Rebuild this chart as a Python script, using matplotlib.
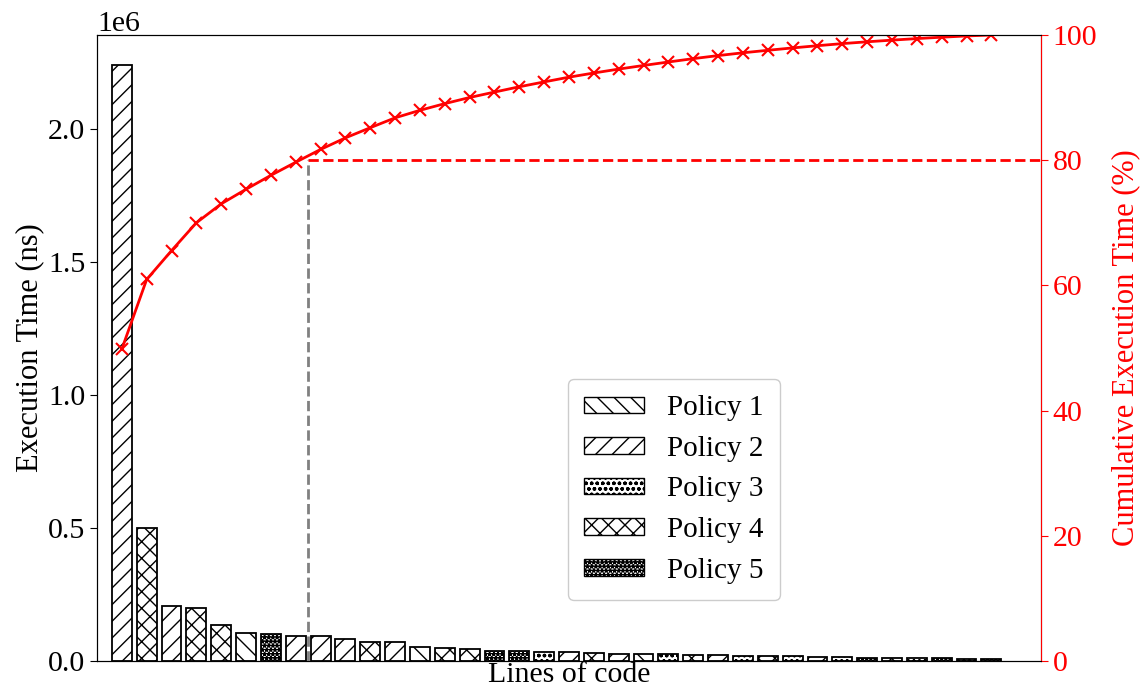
import matplotlib
matplotlib.use("Agg")
import matplotlib.pyplot as plt
from matplotlib.patches import Patch

plt.rcParams['font.family'] = ['Liberation Serif', 'DejaVu Serif']
plt.rcParams['hatch.linewidth'] = 1.0

# Per-line execution time (ns), sorted from slowest to fastest
exec_time_ns = [
    2.24e6, 0.500e6, 0.207e6, 0.200e6, 0.136e6, 0.105e6, 0.100e6, 0.094e6,
    0.092e6, 0.083e6, 0.073e6, 0.071e6, 0.054e6, 0.048e6, 0.044e6, 0.039e6,
    0.038e6, 0.035e6, 0.034e6, 0.030e6, 0.028e6, 0.026e6, 0.025e6, 0.024e6,
    0.022e6, 0.020e6, 0.018e6, 0.017e6, 0.016e6, 0.015e6, 0.013e6, 0.012e6,
    0.011e6, 0.010e6, 0.009e6, 0.007e6,
]

# Policy applied to each line of code
line_policy = [
    2, 4, 2, 4, 4, 1, 5, 2, 2, 2, 4, 2, 1, 4, 4, 5, 5, 3,
    2, 4, 2, 1, 3, 4, 2, 3, 4, 3, 2, 3, 5, 4, 3, 5, 3, 5,
]

policy_names = ["Policy 1", "Policy 2", "Policy 3", "Policy 4", "Policy 5"]
policy_hatches = ["\\\\", "//", "ooo", "xx", "****"]

threshold_pct = 80

n = len(exec_time_ns)
x = list(range(n))
total = sum(exec_time_ns)
cum_pct = []
running = 0.0
for v in exec_time_ns:
    running += v
    cum_pct.append(running / total * 100)
cut_idx = next(i for i, c in enumerate(cum_pct) if c >= threshold_pct)
cut_x = cut_idx - 0.5

fig = plt.figure(figsize=(11.45, 6.94), dpi=100)
ax = fig.add_axes([0.0847, 0.0476, 0.8245, 0.902])

for xi, v, p in zip(x, exec_time_ns, line_policy):
    ax.bar(xi, v, width=0.8, color="white", edgecolor="black",
           linewidth=1.3, hatch=policy_hatches[p - 1])

ax.set_xlim(-1, n + 1)
ax.set_ylim(0, max(exec_time_ns) * 1.05)
ax.set_xticks([])
ax.set_xlabel("Lines of code", fontsize=21.5, labelpad=1)
ax.set_ylabel("Execution Time (ns)", fontsize=22, labelpad=3)
ax.tick_params(axis="y", labelsize=21.5, length=5)
ax.yaxis.get_offset_text().set_fontsize(21.5)

handles = [Patch(facecolor="white", edgecolor="black", hatch=h, label=name)
           for h, name in zip(policy_hatches, policy_names)]
ax.legend(handles=handles, loc="center", bbox_to_anchor=(0.611, 0.274),
          fontsize=21, handlelength=2.05, handleheight=0.5,
          labelspacing=0.5, handletextpad=0.8, borderpad=0.55,
          framealpha=1.0, edgecolor="#cccccc")

ax2 = ax.twinx()
ax2.plot(x, cum_pct, color="red", marker="x", markersize=8,
         markeredgewidth=1.5, linewidth=2)
ax2.plot([cut_x, cut_x], [0, threshold_pct], linestyle="--",
         color="gray", linewidth=2)
ax2.plot([cut_x, n + 1], [threshold_pct, threshold_pct], linestyle="--",
         color="red", linewidth=2)
ax2.set_ylim(0, 100)
ax2.set_xlim(-1, n + 1)
ax2.set_ylabel("Cumulative Execution Time (%)", color="red", fontsize=22,
               labelpad=10)
ax2.tick_params(axis="y", colors="red", labelsize=21.5, length=5)
ax2.spines["right"].set_color("red")

fig.savefig("out.png", dpi=100)
